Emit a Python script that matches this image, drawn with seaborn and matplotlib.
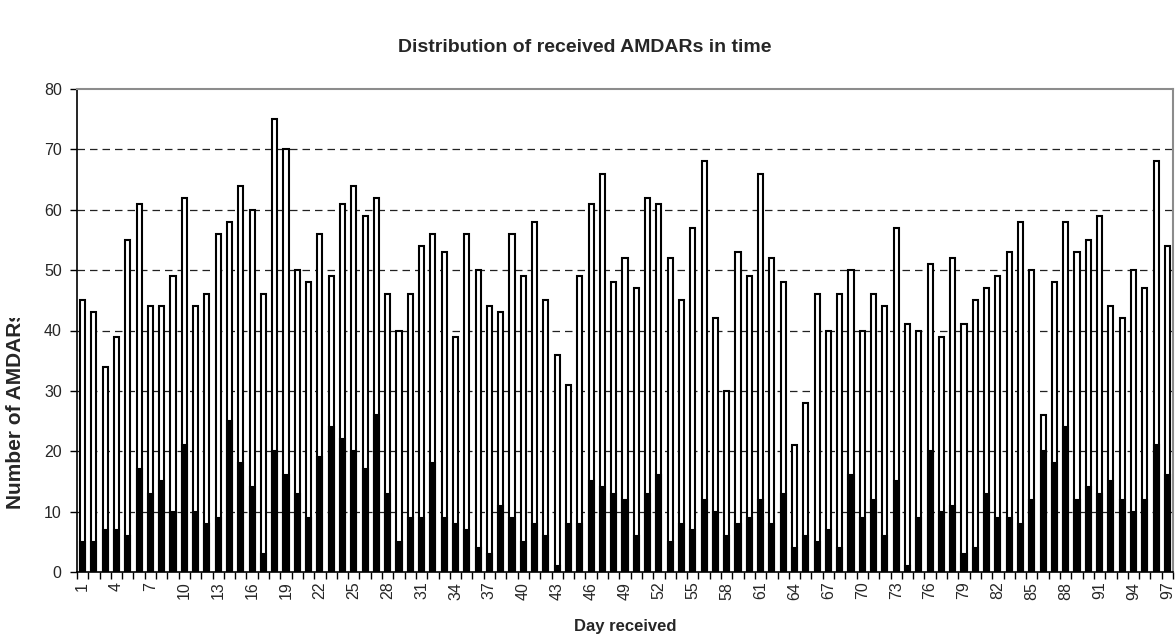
import numpy as np
import pandas as pd
import matplotlib
matplotlib.use("Agg")
import matplotlib.pyplot as plt
from matplotlib.transforms import Bbox
import seaborn as sns

# Daily AMDAR counts: all received reports and the subset shown in black
days = list(range(1, 98))
total_received = [
    45, 43, 34, 39, 55, 61, 44, 44, 49, 62, 44, 46, 56, 58, 64, 60, 46, 75, 70, 50,
    48, 56, 49, 61, 64, 59, 62, 46, 40, 46, 54, 56, 53, 39, 56, 50, 44, 43, 56, 49,
    58, 45, 36, 31, 49, 61, 66, 48, 52, 47, 62, 61, 52, 45, 57, 68, 42, 30, 53, 49,
    66, 52, 48, 21, 28, 46, 40, 46, 50, 40, 46, 44, 57, 41, 40, 51, 39, 52, 41, 45,
    47, 49, 53, 58, 50, 26, 48, 58, 53, 55, 59, 44, 42, 50, 47, 68, 54,
]
subset_received = [
    5, 5, 7, 7, 6, 17, 13, 15, 10, 21, 10, 8, 9, 25, 18, 14, 3, 20, 16, 13,
    9, 19, 24, 22, 20, 17, 26, 13, 5, 9, 9, 18, 9, 8, 7, 4, 3, 11, 9, 5,
    8, 6, 1, 8, 8, 15, 14, 13, 12, 6, 13, 16, 5, 8, 7, 12, 10, 6, 8, 9,
    12, 8, 13, 4, 6, 5, 7, 4, 16, 9, 12, 6, 15, 1, 9, 20, 10, 11, 3, 4,
    13, 9, 9, 8, 12, 20, 18, 24, 12, 14, 13, 15, 12, 10, 12, 21, 16,
]
y_ticks = [0, 10, 20, 30, 40, 50, 60, 70, 80]

df = pd.DataFrame({"day": days, "total": total_received, "subset": subset_received})

sns.set_theme(style="white")
plt.rcParams["font.family"] = ["Liberation Sans", "DejaVu Sans"]

fig = plt.figure(figsize=(11.76, 6.39), dpi=100)
ax = fig.add_axes([77 / 1176, 1 - 572 / 639, (1173 - 77) / 1176, (572 - 89) / 639])
ax.set_facecolor("white")

bar_w = 0.45
sns.barplot(data=df, x="day", y="total", color="white", edgecolor="black",
            linewidth=1.5, width=bar_w, saturation=1, ax=ax, zorder=3)
sns.barplot(data=df, x="day", y="subset", color="black", edgecolor="black",
            linewidth=1.5, width=bar_w, saturation=1, ax=ax, zorder=4)

n = len(days)
ax.set_xlim(-0.5, n - 0.5)
ax.set_ylim(0, 80)

# horizontal dashed gridlines
for v in y_ticks[1:-1]:
    ax.axhline(v, color="#222222", linewidth=0.9, linestyle=(0, (6, 4)), zorder=1)

# y axis
ax.set_yticks(y_ticks)
ax.set_yticklabels([str(v) for v in y_ticks], fontsize=11.5)
ax.tick_params(axis="y", direction="out", length=5, width=1, color="black",
               left=True, pad=6)

# x axis: labels every third day at category centres, tick marks at boundaries
label_idx = list(range(0, n, 3))
ax.set_xticks(label_idx)
ax.set_xticklabels([str(days[i]) for i in label_idx], rotation=90, fontsize=11.5)
ax.tick_params(axis="x", which="major", length=0, pad=7)
ax.set_xticks(np.arange(-0.5, n, 1.0), minor=True)
ax.tick_params(axis="x", which="minor", direction="out", length=5, width=1,
               color="black", bottom=True)

for side in ["left", "bottom"]:
    ax.spines[side].set_color("black")
    ax.spines[side].set_linewidth(1.2)
for side in ["top", "right"]:
    ax.spines[side].set_visible(True)
    ax.spines[side].set_color("#8c8c8c")
    ax.spines[side].set_linewidth(1.5)

ax.set_xlabel("")
ax.set_ylabel("")

fig.text(0.497, 1 - 47 / 639, "Distribution of received AMDARs in time",
         ha="center", va="center", fontsize=14, fontweight="bold")
fig.text(625 / 1176, 1 - 626 / 639, "Day received",
         ha="center", va="center", fontsize=12, fontweight="bold")

# y-axis title, cut off at the top of its box
ylab = fig.text(16 / 1176, 1 - 410 / 639, "Number of AMDARs", rotation=90,
                ha="center", va="center", fontsize=15, fontweight="bold")
ylab.set_clip_box(Bbox.from_extents(0, 0, 40, 639 - 318))
ylab.set_clip_on(True)

fig.savefig("out.png", dpi=100, facecolor="white")
